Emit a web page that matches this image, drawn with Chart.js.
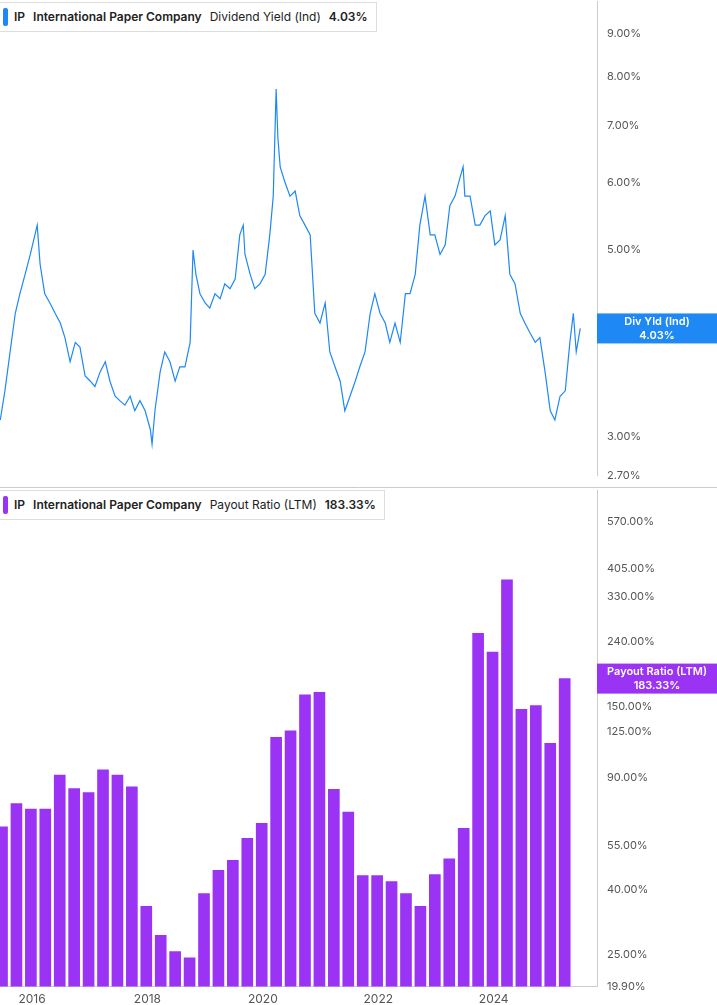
<!DOCTYPE html>
<html><head><meta charset="utf-8">
<script src="https://cdn.jsdelivr.net/npm/chart.js@4"></script>
<style>
body{margin:0;background:#fff;font-family:Inter,Roboto,sans-serif;overflow:hidden}
#w1{position:absolute;left:0;top:-11px;width:717px;height:499px;}
#w2{position:absolute;left:0;top:478px;width:717px;height:531px;}
.hdr{position:absolute;left:0;background:#fff;border:1px solid #ddd;border-left:none;font-size:12px;height:28px;line-height:28px;padding:0 8px 0 14px;color:#222;white-space:nowrap;z-index:5}
.hdr i{position:absolute;left:3px;top:5px;width:5px;height:18px;border-radius:2px}
.hdr b{font-weight:600;margin-right:8px}
.hdr span{margin-right:8px}
</style></head><body>
<div id="w1"><canvas id="c1"></canvas></div>
<div id="w2"><canvas id="c2"></canvas></div>
<div class="hdr" style="top:2px"><i style="background:#1e88f5"></i><b>IP</b><b>International Paper Company</b><span>Dividend Yield (Ind)</span><b style="margin:0">4.03%</b></div>
<div class="hdr" style="top:490px"><i style="background:#9b33f5"></i><b>IP</b><b>International Paper Company</b><span>Payout Ratio (LTM)</span><b style="margin:0">183.33%</b></div>
<script>
const yieldDates=[2015.45,2015.53,2015.62,2015.71,2015.79,2015.88,2015.97,2016.09,2016.14,2016.22,2016.31,2016.40,2016.49,2016.57,2016.66,2016.75,2016.83,2016.92,2017.01,2017.09,2017.18,2017.27,2017.35,2017.44,2017.52,2017.61,2017.70,2017.78,2017.87,2017.96,2018.05,2018.08,2018.13,2018.22,2018.30,2018.39,2018.48,2018.56,2018.65,2018.74,2018.79,2018.84,2018.91,2019.00,2019.08,2019.17,2019.26,2019.34,2019.43,2019.52,2019.60,2019.66,2019.69,2019.78,2019.86,2019.95,2020.04,2020.12,2020.18,2020.23,2020.26,2020.30,2020.38,2020.47,2020.56,2020.64,2020.73,2020.82,2020.90,2020.99,2021.08,2021.16,2021.25,2021.34,2021.42,2021.51,2021.60,2021.68,2021.77,2021.86,2021.94,2022.03,2022.12,2022.20,2022.29,2022.38,2022.47,2022.55,2022.64,2022.72,2022.81,2022.90,2022.98,2023.07,2023.16,2023.24,2023.33,2023.42,2023.47,2023.50,2023.59,2023.68,2023.76,2023.85,2023.94,2024.02,2024.11,2024.20,2024.28,2024.37,2024.46,2024.54,2024.63,2024.72,2024.80,2024.89,2024.98,2025.06,2025.15,2025.24,2025.32,2025.38,2025.43,2025.50];
const yieldValues=[3.14,3.40,3.78,4.20,4.43,4.67,4.93,5.34,4.80,4.43,4.32,4.20,4.09,3.93,3.68,3.88,3.83,3.54,3.49,3.44,3.58,3.68,3.49,3.35,3.31,3.27,3.35,3.22,3.31,3.22,3.06,2.94,3.22,3.58,3.78,3.68,3.49,3.63,3.63,3.88,4.99,4.67,4.43,4.32,4.26,4.43,4.37,4.55,4.49,4.61,5.20,5.34,4.93,4.67,4.49,4.55,4.67,5.20,5.78,7.74,6.78,6.26,6.01,5.78,5.86,5.48,5.34,5.20,4.20,4.09,4.32,3.78,3.63,3.49,3.22,3.35,3.49,3.63,3.78,4.20,4.43,4.20,4.09,3.88,4.09,3.88,4.43,4.43,4.67,5.34,5.78,5.20,5.20,4.93,5.06,5.63,5.78,6.09,6.26,5.78,5.78,5.34,5.34,5.48,5.55,5.06,5.13,5.48,4.67,4.55,4.20,4.09,3.98,3.88,3.93,3.58,3.22,3.14,3.35,3.40,3.88,4.20,3.78,4.03];
const payoutDates=[2015.48,2015.73,2015.98,2016.23,2016.48,2016.73,2016.98,2017.23,2017.48,2017.73,2017.98,2018.23,2018.48,2018.73,2018.98,2019.23,2019.48,2019.73,2019.98,2020.23,2020.48,2020.73,2020.98,2021.23,2021.48,2021.73,2021.98,2022.23,2022.48,2022.73,2022.98,2023.23,2023.48,2023.73,2023.98,2024.23,2024.48,2024.73,2024.98,2025.23];
const payoutValues=[63,74.4,71.6,71.6,91.5,83,80.6,95,91.5,84,35.5,28.8,25.6,24.5,38.9,46,49.5,58,64.6,120,125.7,163,166,82.5,70,44.3,44.3,42.4,38.9,35.5,44.6,50,62.3,254,222,374,147,151,115,183.33];
const yieldTicks=[2.7,3,4,5,6,7,8,9];
const payoutTicks=[19.9,25,40,55,90,125,150,240,330,405,570];
const xTicks=[2016,2018,2020,2022,2024];

const X0=2015.445,X1=2025.79;
function badge(label,val,color,dy){return{id:'b'+label,afterDraw(ch){const y=ch.scales.y.getPixelForValue(val);const c=ch.ctx;c.save();c.fillStyle=color;c.fillRect(597,y-15+dy,120,30);c.fillStyle='#fff';c.font='600 11px Inter, Roboto, sans-serif';c.textAlign='center';c.textBaseline='middle';c.fillText(label,657,y-7+dy);c.fillText(val.toFixed(2)+'%',657,y+7+dy);c.restore();}}}
function yAxis(min,max,ticks){return{type:'logarithmic',position:'right',min,max,afterFit(s){s.width=120},afterBuildTicks(s){s.ticks=ticks.map(v=>({value:v}))},grid:{display:false,drawTicks:true,tickLength:4,color:'#ccc'},border:{color:'#ccc'},ticks:{color:'#555',font:{size:11,family:'Inter, Roboto, sans-serif'},padding:6,callback:v=>Number(v).toFixed(2)+'%'}}}
const common={animation:false,responsive:true,maintainAspectRatio:false,plugins:{legend:{display:false},tooltip:{enabled:false}}};
new Chart(c1,{type:'line',data:{datasets:[{data:yieldDates.map((d,i)=>({x:d,y:yieldValues[i]})),borderColor:'#1e88f5',borderWidth:1.2,pointRadius:0,tension:0}]},
options:{...common,layout:{padding:0},scales:{x:{type:'linear',min:X0,max:X1,display:false},y:yAxis(2.7,9.82,yieldTicks)}},plugins:[badge('Div Yld (Ind)',4.03,'#1e88f5',0),{id:'bl',afterDraw(ch){const c=ch.ctx;c.save();c.strokeStyle='#ccc';c.beginPath();c.moveTo(0,498.5);c.lineTo(717,498.5);c.stroke();c.restore();}}]});
new Chart(c2,{type:'bar',data:{datasets:[{data:payoutDates.map((d,i)=>({x:d,y:payoutValues[i]})),backgroundColor:'#9b33f5',barThickness:11}]},
options:{...common,layout:{padding:{top:0}},scales:{x:{type:'linear',offset:false,min:X0,max:X1,afterBuildTicks(s){s.ticks=xTicks.map(v=>({value:v}))},grid:{display:false,offset:false,tickLength:4,color:'#ccc'},border:{color:'#ccc'},ticks:{color:'#555',font:{size:12,family:'Inter, Roboto, sans-serif'},padding:2,callback:v=>String(v)}},y:yAxis(19.9,711,payoutTicks)}},plugins:[badge('Payout Ratio (LTM)',183.33,'#9b33f5',0)]});
</script></body></html>
